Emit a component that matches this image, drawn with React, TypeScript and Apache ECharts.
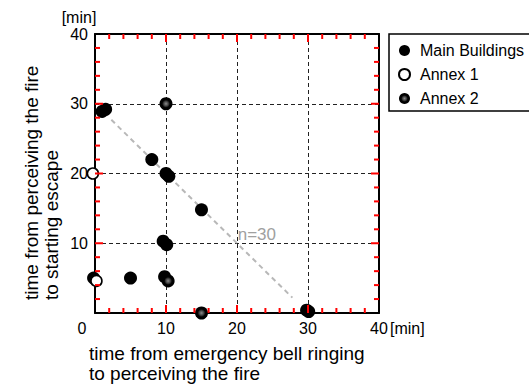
import React, { useEffect, useRef } from "react";
import * as echarts from "echarts";

const FONT = "'Liberation Sans', Arial, Helvetica, sans-serif";

const seriesNames = ["Main Buildings", "Annex 1", "Annex 2"];

const mainBuildings: [number, number][] = [
  [1.0, 28.9], [1.5, 29.2], [8.0, 22.0], [10.0, 20.0], [10.4, 19.6],
  [15.0, 14.8], [9.6, 10.3], [10.1, 9.8], [-0.2, 5.0], [5.0, 5.0],
  [9.8, 5.2], [29.8, 0.4], [30.1, 0.2],
];
const annex1: [number, number][] = [
  [-0.3, 20.0], [0.2, 4.6],
];
const annex2: [number, number][] = [
  [10.0, 30.0], [15.0, 0.0], [10.3, 4.6],
];
const trendLine: [number, number][] = [
  [2.3, 27.7], [27.8, 2.2],
];
const trendLabel = { text: "n=30", coord: [20.1, 11.3] };

const axisMin = 0;
const axisMax = 40;
const majorInterval = 10;
// frame tick positions (same on all four sides); multiples of 10 are major ticks
const frameTicks = [2, 4, 6, 8, 10, 12, 14, 16, 18, 20, 22, 24, 26, 28, 30, 32, 34, 36, 38];

const yTitle = "time from perceiving the fire\nto starting escape";
const xTitle = "time from emergency bell ringing\nto perceiving the fire";
const unitLabel = "[min]";

export default function App() {
  const ref = useRef<HTMLDivElement>(null);

  useEffect(() => {
    if (!ref.current) return;
    const chart = echarts.init(ref.current, null, { renderer: "svg" });

    const dashed = { show: true, lineStyle: { color: "#222", type: [4, 3], width: 1 } };

    const mainAxis = (position: string, labels: any, split: any) => ({
      type: "value",
      min: axisMin,
      max: axisMax,
      interval: majorInterval,
      position,
      axisLine: { show: true, onZero: false, lineStyle: { color: "#000", width: 2 } },
      axisTick: { show: false },
      axisLabel: labels,
      splitLine: split,
    });

    const xLabels = {
      margin: 7,
      fontSize: 16,
      color: "#000",
      fontFamily: FONT,
      formatter: (v: number) => (v === 0 ? "{z|0}" : String(v)),
      rich: { z: { padding: [0, 26, 0, 0], fontSize: 16, color: "#000", fontFamily: FONT } },
    };
    const yLabels = { margin: 7, fontSize: 16, color: "#000", fontFamily: FONT, showMinLabel: false };

    const tickStyle = { stroke: "#ff0000", lineWidth: 2 };

    const option: any = {
      animation: false,
      backgroundColor: "#fff",
      grid: { left: 95, right: 150, top: 34, bottom: 71 },
      legend: {
        data: seriesNames,
        orient: "vertical",
        left: 389,
        top: 34,
        padding: [8, 60, 4, 9],
        itemGap: 7,
        itemWidth: 11,
        itemHeight: 11,
        borderColor: "#000",
        borderWidth: 1.5,
        borderRadius: 0,
        backgroundColor: "#fff",
        icon: "circle",
        textStyle: { fontSize: 16, color: "#000", fontFamily: FONT, padding: [0, 0, 0, 5], lineHeight: 17 },
      },
      xAxis: [
        mainAxis("bottom", xLabels, dashed),
        mainAxis("top", { show: false }, { show: false }),
      ],
      yAxis: [
        mainAxis("left", yLabels, dashed),
        mainAxis("right", { show: false }, { show: false }),
      ],
      series: [
        {
          name: "frameTicks",
          type: "custom",
          data: frameTicks.map((v) => [v, v]),
          silent: true,
          clip: false,
          z: 5,
          renderItem: (_params: any, api: any) => {
            const v = api.value(0);
            const len = v % majorInterval === 0 ? 8 : 5;
            const b = api.coord([v, axisMin]);
            const t = api.coord([v, axisMax]);
            const l = api.coord([axisMin, v]);
            const r = api.coord([axisMax, v]);
            return {
              type: "group",
              children: [
                { type: "line", shape: { x1: b[0], y1: b[1], x2: b[0], y2: b[1] - len }, style: tickStyle },
                { type: "line", shape: { x1: t[0], y1: t[1], x2: t[0], y2: t[1] + len }, style: tickStyle },
                { type: "line", shape: { x1: l[0], y1: l[1], x2: l[0] + len, y2: l[1] }, style: tickStyle },
                { type: "line", shape: { x1: r[0], y1: r[1], x2: r[0] - len, y2: r[1] }, style: tickStyle },
              ],
            };
          },
        },
        {
          name: "trend",
          type: "line",
          data: trendLine,
          symbol: "none",
          lineStyle: { color: "#b8b8b8", width: 2, type: [5, 4] },
          z: 1,
          markPoint: {
            symbol: "circle",
            symbolSize: 1,
            itemStyle: { color: "rgba(0,0,0,0)" },
            label: {
              show: true,
              formatter: trendLabel.text,
              position: "inside",
              align: "left",
              verticalAlign: "middle",
              fontSize: 17,
              color: "#a0a0a0",
              fontFamily: FONT,
            },
            data: [{ coord: trendLabel.coord }],
          },
        },
        {
          name: seriesNames[0],
          type: "scatter",
          data: mainBuildings,
          symbol: "circle",
          symbolSize: 13,
          clip: false,
          itemStyle: { color: "#000", opacity: 1 },
          z: 3,
        },
        {
          name: seriesNames[1],
          type: "scatter",
          data: annex1,
          symbol: "circle",
          symbolSize: 11,
          clip: false,
          itemStyle: { color: "#fff", borderColor: "#000", borderWidth: 1.6, opacity: 1 },
          z: 4,
        },
        {
          name: seriesNames[2],
          type: "scatter",
          data: annex2,
          symbol: "circle",
          symbolSize: 13,
          clip: false,
          itemStyle: {
            color: {
              type: "radial",
              x: 0.5,
              y: 0.5,
              r: 0.5,
              colorStops: [
                { offset: 0, color: "#8a8a8a" },
                { offset: 0.35, color: "#444" },
                { offset: 0.6, color: "#000" },
                { offset: 1, color: "#000" },
              ],
            },
            opacity: 1,
          },
          z: 3,
        },
      ],
      graphic: [
        {
          type: "text",
          x: 79,
          y: 17,
          style: { text: unitLabel, font: `16px ${FONT}`, fill: "#000", align: "center", verticalAlign: "middle" },
        },
        {
          type: "text",
          x: 390,
          y: 328,
          style: { text: unitLabel, font: `16px ${FONT}`, fill: "#000", align: "left", verticalAlign: "middle" },
        },
        {
          type: "text",
          x: 41,
          y: 300,
          rotation: Math.PI / 2,
          style: {
            text: yTitle,
            font: `19px ${FONT}`,
            fill: "#000",
            align: "left",
            verticalAlign: "middle",
            lineHeight: 20,
          },
        },
        {
          type: "text",
          x: 89,
          y: 343,
          style: {
            text: xTitle,
            font: `19px ${FONT}`,
            fill: "#000",
            align: "left",
            verticalAlign: "top",
            lineHeight: 20,
          },
        },
      ],
    };

    chart.setOption(option);
    return () => chart.dispose();
  }, []);

  return <div ref={ref} style={{ position: "absolute", left: 0, top: 0, width: 529, height: 384 }} />;
}
